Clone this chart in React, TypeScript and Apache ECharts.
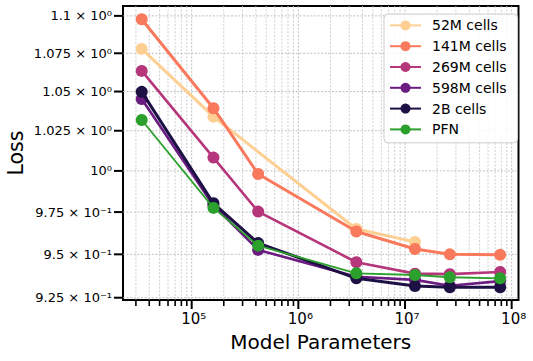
import React, { useEffect, useRef } from 'react';
import * as echarts from 'echarts';

// ---- data ----
const modelParams = [3.4e4, 1.6e5, 4.2e5, 3.5e6, 1.24e7, 2.63e7, 7.8e7];

const loss52M = [1.0779, 1.0339, null, 0.9649, 0.9573, null, null];
const loss141M = [1.0977, 1.0393, 0.9981, 0.9634, 0.9531, 0.95, 0.9497];
const loss269M = [1.0634, 1.0082, 0.9753, 0.9454, 0.9388, 0.9385, 0.9397];
const loss598M = [1.0452, 0.979, 0.9526, 0.937, 0.9352, 0.9318, 0.9345];
const loss2B = [1.0498, 0.9803, 0.9566, 0.9361, 0.9317, 0.931, 0.931];
const lossPFN = [1.0318, 0.9775, 0.9551, 0.939, 0.938, 0.9367, 0.9361];

const seriesNames = ['52M cells', '141M cells', '269M cells', '598M cells', '2B cells', 'PFN'];
const seriesValues = [loss52M, loss141M, loss269M, loss598M, loss2B, lossPFN];
const seriesColors = ['#fecf92', '#f9795d', '#b5367a', '#6a1c81', '#1c1044', '#2ca02c'];
const seriesWidths = [3, 3, 2.6, 2.6, 3, 1.8];

// axis ticks
const xMajorTicks = [1e5, 1e6, 1e7, 1e8];
const xMajorLabels = ['10⁵', '10⁶', '10⁷', '10⁸'];
const xMinorMultipliers = [2, 3, 4, 5, 6, 7, 8, 9];
const xMinorDecades = [1e4, 1e5, 1e6, 1e7];
const yTicks = [0.925, 0.95, 0.975, 1.0, 1.025, 1.05, 1.075, 1.1];
const yTickLabels = [
  '9.25 × 10⁻¹',
  '9.5 × 10⁻¹',
  '9.75 × 10⁻¹',
  '10⁰',
  '1.025 × 10⁰',
  '1.05 × 10⁰',
  '1.075 × 10⁰',
  '1.1 × 10⁰',
];

const X_MIN = 22700;
const X_MAX = 1.159e8;
const Y_MIN = 0.9237;
const Y_MAX = 1.1067;

const FONT = 'DejaVu Sans';

export default function App() {
  const ref = useRef<HTMLDivElement>(null);

  useEffect(() => {
    if (!ref.current) return;
    const chart = echarts.init(ref.current, undefined, { renderer: 'svg' });

    const xTickItems: number[][] = [];
    xMinorDecades.forEach((d) => {
      xMinorMultipliers.forEach((m) => {
        const v = d * m;
        if (v >= X_MIN && v <= X_MAX) xTickItems.push([v, 1.0, -1]);
      });
    });
    xMajorTicks.forEach((v, i) => xTickItems.push([v, 1.0, i]));

    const yTickItems = yTicks.map((v, i) => [1e6, v, i]);

    const lineSeries = seriesNames.map((name, i) => ({
      type: 'line',
      name,
      z: 3 + i * 0.01,
      data: modelParams
        .map((x, j) => [x, seriesValues[i][j]])
        .filter((p) => p[1] !== null),
      symbol: 'circle',
      symbolSize: 12,
      showSymbol: true,
      lineStyle: { color: seriesColors[i], width: seriesWidths[i] },
      itemStyle: { color: seriesColors[i] },
      emphasis: { disabled: true },
    }));

    const xTickSeries = {
      type: 'custom',
      silent: true,
      clip: false,
      z: 1,
      data: xTickItems,
      encode: { x: 0, y: 1 },
      renderItem: (params: any, api: any) => {
        const cs = params.coordSys;
        const v = api.value(0);
        const li = api.value(2);
        const x = api.coord([v, 1.0])[0];
        const bottom = cs.y + cs.height;
        const major = li >= 0;
        const children: any[] = [
          {
            type: 'line',
            shape: { x1: x, y1: cs.y, x2: x, y2: bottom },
            style: { stroke: major ? '#b8b8b8' : '#cacaca', lineWidth: 0.9, lineDash: [2, 1.6] },
          },
          {
            type: 'line',
            shape: { x1: x, y1: bottom, x2: x, y2: bottom + (major ? 9 : 6) },
            style: { stroke: '#000', lineWidth: major ? 2 : 1.6 },
          },
        ];
        if (major) {
          children.push({
            type: 'text',
            x: x + 2,
            y: bottom + 11,
            style: {
              text: xMajorLabels[li],
              fill: '#000',
              fontSize: 15,
              fontFamily: FONT,
              align: 'center',
              verticalAlign: 'top',
            },
          });
        }
        return { type: 'group', children };
      },
    };

    const yTickSeries = {
      type: 'custom',
      silent: true,
      clip: false,
      z: 1,
      data: yTickItems,
      encode: { x: 0, y: 1 },
      renderItem: (params: any, api: any) => {
        const cs = params.coordSys;
        const v = api.value(1);
        const li = api.value(2);
        const y = api.coord([1e6, v])[1];
        return {
          type: 'group',
          children: [
            {
              type: 'line',
              shape: { x1: cs.x, y1: y, x2: cs.x + cs.width, y2: y },
              style: { stroke: '#b8b8b8', lineWidth: 0.9, lineDash: [2, 1.6] },
            },
            {
              type: 'line',
              shape: { x1: cs.x - 9, y1: y, x2: cs.x, y2: y },
              style: { stroke: '#000', lineWidth: 2 },
            },
            {
              type: 'text',
              x: cs.x - 11,
              y: y,
              style: {
                text: yTickLabels[li],
                fill: '#000',
                fontSize: 13,
                fontFamily: FONT,
                align: 'right',
                verticalAlign: 'middle',
              },
            },
          ],
        };
      },
    };

    chart.setOption({
      animation: false,
      backgroundColor: '#ffffff',
      grid: {
        left: 123,
        right: 14.5,
        top: 6,
        bottom: 61,
        show: true,
        borderColor: '#000',
        borderWidth: 2,
        backgroundColor: 'transparent',
        outerBoundsMode: 'none',
      },
      xAxis: {
        type: 'log',
        logBase: 10,
        min: X_MIN,
        max: X_MAX,
        name: 'Model Parameters',
        nameLocation: 'middle',
        nameGap: 32,
        nameTextStyle: { fontSize: 20, color: '#000', fontFamily: FONT },
        axisLine: { show: false },
        axisTick: { show: false },
        axisLabel: { show: false },
        splitLine: { show: false },
        minorTick: { show: false },
      },
      yAxis: {
        type: 'log',
        logBase: 10,
        min: Y_MIN,
        max: Y_MAX,
        name: 'Loss',
        nameLocation: 'middle',
        nameGap: 97,
        nameTextStyle: { fontSize: 20.5, color: '#000', fontFamily: FONT },
        axisLine: { show: false },
        axisTick: { show: false },
        axisLabel: { show: false },
        splitLine: { show: false },
        minorTick: { show: false },
      },
      legend: {
        data: seriesNames,
        orient: 'vertical',
        left: 384,
        top: 14,
        itemGap: 0,
        itemWidth: 31,
        itemHeight: 12.5,
        padding: [1, 11, 3, 5],
        backgroundColor: 'rgba(255,255,255,0.85)',
        borderColor: '#cccccc',
        borderWidth: 1,
        borderRadius: 4,
        selectedMode: false,
        textStyle: {
          fontSize: 14,
          fontFamily: FONT,
          color: '#000',
          lineHeight: 20.8,
          padding: [0, 0, 0, 6],
        },
      },
      series: [xTickSeries, yTickSeries, ...lineSeries],
    });

    return () => chart.dispose();
  }, []);

  return <div ref={ref} style={{ width: 533, height: 361, position: 'absolute', left: 0, top: 0 }} />;
}
